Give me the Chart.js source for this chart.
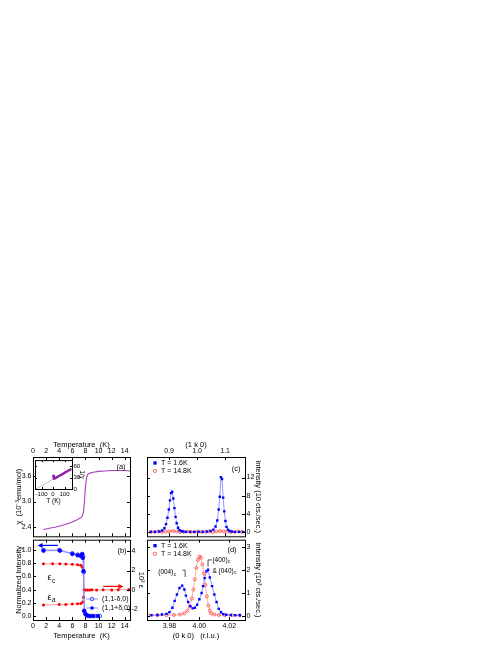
<!DOCTYPE html>
<html>
<head>
<meta charset="utf-8">
<script src="https://cdn.jsdelivr.net/npm/chart.js@4.4.0/dist/chart.umd.min.js"></script>
<style>
  html, body { margin: 0; padding: 0; background: #fff; }
  #fig { position: relative; width: 498px; height: 645px; overflow: hidden; }
  #fig canvas { position: absolute; }
</style>
</head>
<body>
<div id="fig">
  <canvas id="pa" width="128" height="102" style="left:14px;top:440px"></canvas>
  <canvas id="pb" width="132" height="106" style="left:14px;top:534px"></canvas>
  <canvas id="pc" width="123" height="102" style="left:140px;top:440px"></canvas>
  <canvas id="pd" width="123" height="106" style="left:140px;top:534px"></canvas>
  <canvas id="pi" width="55" height="50" style="left:31px;top:455px"></canvas>
</div>
<script>
// (a) susceptibility vs temperature
const chiT   = [1.6, 2.5, 3.5, 4.5, 5.5, 6.5, 7.2, 7.5, 7.7, 7.85, 8.0, 8.2, 8.4, 8.7, 9.2, 10, 11, 12, 13, 14, 14.8];
const chiVal = [2.34, 2.37, 2.40, 2.44, 2.49, 2.55, 2.61, 2.65, 2.75, 3.0, 3.35, 3.58, 3.65, 3.67, 3.69, 3.71, 3.72, 3.73, 3.73, 3.73, 3.72];

// (a) inset, 1/chi vs T and Curie-Weiss line
const invT   = [2, 4, 6, 7.5, 8, 10, 20, 40, 60, 80, 100, 120, 140, 160];
const invChi = [38, 36.5, 35, 33.5, 28, 27.5, 29, 32.5, 36, 39.5, 43, 46.5, 50, 53.5];
const fitT   = [-150, 165];
const fitVal = [0, 55];

// (b) normalized intensity of the two satellites
const minusT = [1.6, 4.0, 6.0, 6.8, 7.3, 7.55, 7.65, 7.75, 7.85, 8.1, 8.4, 8.9, 9.5, 10.2];
const minusI = [1.0, 1.0, 0.95, 0.93, 0.92, 0.93, 0.90, 0.66, 0.07, 0.02, 0.0, 0.0, 0.0, 0.0];
const plusT  = [1.6, 4.1, 6.0, 6.8, 7.3, 7.5, 7.6, 7.7, 7.8, 8.0, 8.3, 8.7, 9.2, 9.9];
const plusI  = [0.99, 0.99, 0.94, 0.92, 0.91, 0.94, 0.88, 0.68, 0.08, 0.03, 0.01, 0.0, 0.0, 0.0];

// (b) strain, right axis (10^3 eps)
const epsCT = [1.6, 3.0, 4.1, 5.0, 6.0, 6.8, 7.3, 7.55, 7.7, 7.8, 8.0, 8.3, 8.65, 9.0, 9.7, 10.7, 12.0, 13.0, 14.6];
const epsC  = [2.7, 2.72, 2.7, 2.68, 2.65, 2.6, 2.55, 2.35, 2.0, 0.0, -0.05, -0.05, -0.05, 0.0, -0.05, 0.0, -0.05, 0.0, 0.0];
const epsAT = [1.6, 4.0, 5.0, 6.0, 6.8, 7.3, 7.6, 7.7, 7.8];
const epsA  = [-1.6, -1.55, -1.55, -1.5, -1.48, -1.45, -1.3, -0.8, 0.0];

// (c) (1 k 0) scans
const cK_lo = [0.835, 0.85, 0.865, 0.875, 0.883, 0.889, 0.894, 0.899, 0.903, 0.907, 0.911, 0.915, 0.919, 0.923, 0.927, 0.932, 0.937, 0.943, 0.95, 0.96, 0.975, 0.99, 1.005, 1.02, 1.035, 1.048, 1.058, 1.066, 1.072, 1.077, 1.081, 1.085, 1.089, 1.093, 1.097, 1.101, 1.105, 1.110, 1.116, 1.124, 1.135, 1.15, 1.165];
const cI_lo = [0.1, 0.1, 0.2, 0.4, 0.9, 1.8, 3.2, 5.0, 7.0, 8.6, 8.9, 7.4, 5.3, 3.4, 2.0, 1.0, 0.5, 0.3, 0.2, 0.1, 0.1, 0.1, 0.1, 0.1, 0.2, 0.3, 0.6, 1.3, 2.6, 5.0, 7.8, 12.1, 11.7, 7.6, 4.6, 2.5, 1.2, 0.6, 0.3, 0.2, 0.1, 0.1, 0.1];
const cK_hi = [0.835, 0.848, 0.861, 0.874, 0.887, 0.9, 0.913, 0.926, 0.939, 0.952, 0.965, 0.978, 0.991, 1.004, 1.017, 1.03, 1.043, 1.056, 1.069, 1.082, 1.095, 1.108, 1.121, 1.134, 1.147, 1.16];
const cI_hi = [0.1, 0.1, 0.2, 0.1, 0.2, 0.2, 0.3, 0.2, 0.1, 0.1, 0.2, 0.1, 0.1, 0.2, 0.1, 0.1, 0.2, 0.1, 0.2, 0.3, 0.2, 0.2, 0.1, 0.1, 0.2, 0.1];

// (d) (0 k 0) scans
const dK_lo = [3.968, 3.972, 3.975, 3.978, 3.980, 3.982, 3.9835, 3.985, 3.9867, 3.9885, 3.990, 3.991, 3.9925, 3.994, 3.9955, 3.997, 3.9985, 4.000, 4.0015, 4.0025, 4.0035, 4.0048, 4.0058, 4.007, 4.0085, 4.010, 4.0115, 4.013, 4.0145, 4.016, 4.018, 4.021, 4.024, 4.027];
const dI_lo = [0.02, 0.03, 0.05, 0.08, 0.15, 0.35, 0.65, 0.93, 1.22, 1.32, 1.15, 0.88, 0.6, 0.42, 0.32, 0.35, 0.48, 0.72, 1.0, 1.3, 1.65, 1.95, 2.02, 1.68, 1.3, 0.93, 0.6, 0.3, 0.15, 0.07, 0.04, 0.03, 0.02, 0.02];
const dK_hi = [3.966, 3.972, 3.978, 3.983, 3.987, 3.990, 3.992, 3.9935, 3.995, 3.996, 3.997, 3.998, 3.999, 4.000, 4.001, 4.002, 4.003, 4.004, 4.005, 4.006, 4.007, 4.008, 4.010, 4.013, 4.017, 4.022, 4.027];
const dI_hi = [0.02, 0.02, 0.02, 0.03, 0.05, 0.1, 0.22, 0.4, 0.75, 1.15, 1.6, 2.1, 2.45, 2.6, 2.55, 2.25, 1.85, 1.35, 0.85, 0.45, 0.22, 0.1, 0.05, 0.03, 0.02, 0.02, 0.02];

// tick labels
const tempTicks   = [0, 2, 4, 6, 8, 10, 12, 14];
const chiTicks    = [2.4, 3.0, 3.6];
const invTTicks   = [-100, 0, 100];
const invChiTicks = [0, 30, 60];
const normTicks   = [0, 0.2, 0.4, 0.6, 0.8, 1.0];
const epsTicks    = [-2, 0, 2, 4];
const k1Ticks     = [0.9, 1.0, 1.1];
const cTicks      = [0, 4, 8, 12];
const k0Ticks     = [3.98, 4.00, 4.02];
const dTicks      = [0, 1, 2, 3];

const FONT = '"Liberation Sans", Arial, sans-serif';
Chart.defaults.font.family = FONT;
Chart.defaults.font.size = 7;
Chart.defaults.color = '#000';

const fmt0 = v => String(v);
const fmt1 = v => v.toFixed(1);
const fmt2 = v => v.toFixed(2);

function pts(xs, ys) { return xs.map((x, i) => ({ x, y: ys[i] })); }

function series(xs, ys, o) {
  return Object.assign({
    data: pts(xs, ys), showLine: true, borderWidth: 0.8, tension: 0,
    pointRadius: 0, pointHoverRadius: 0, pointBorderWidth: 0.8
  }, o);
}

// fixed-size axis so every panel lines up
function axis(pos, min, max, ticks, size, title, fmt, fs) {
  fs = fs || 7;
  return {
    type: 'linear', position: pos, min, max,
    grid: { display: false, drawTicks: false },
    border: { display: false },
    ticks: { padding: 1.5, maxRotation: 0, minRotation: 0, autoSkip: false, callback: fmt, font: { size: fs } },
    title: { display: true, text: title, padding: 0, font: { size: fs + 0.5 } },
    afterBuildTicks: s => { s.ticks = ticks.map(v => ({ value: v })); },
    afterFit: s => { if (s.isHorizontal()) s.height = size; else s.width = size; }
  };
}

function base(pad, scales) {
  return {
    responsive: false, animation: false, events: [],
    layout: { padding: Object.assign({ left: 0, top: 0, right: 0, bottom: 0 }, pad) },
    plugins: { legend: { display: false }, tooltip: { enabled: false } },
    scales
  };
}

// box with inward ticks, Origin style
const frame = {
  id: 'frame',
  afterDraw(chart) {
    const { ctx, chartArea: a } = chart;
    const scales = Object.values(chart.scales);
    const ys = scales.filter(s => s.axis === 'y');
    const len = chart.canvas.id === 'pi' ? 2 : 3;
    ctx.save();
    ctx.strokeStyle = '#000';
    ctx.lineWidth = 1;
    ctx.strokeRect(a.left + 0.5, a.top + 0.5, a.width, a.height);
    scales.forEach(s => {
      s.ticks.forEach(t => {
        const p = Math.round(s.getPixelForValue(t.value)) + 0.5;
        ctx.beginPath();
        if (s.axis === 'x') {
          ctx.moveTo(p, a.top); ctx.lineTo(p, a.top + len);
          ctx.moveTo(p, a.bottom); ctx.lineTo(p, a.bottom - len);
        } else {
          if (ys.length === 1 || s.position === 'left') { ctx.moveTo(a.left, p); ctx.lineTo(a.left + len, p); }
          if (ys.length === 1 || s.position === 'right') { ctx.moveTo(a.right, p); ctx.lineTo(a.right - len, p); }
        }
        ctx.stroke();
      });
    });
    ctx.restore();
  }
};

function txt(ctx, s, x, y, size, align, color) {
  ctx.font = size + 'px ' + FONT;
  ctx.fillStyle = color || '#000';
  ctx.textAlign = align || 'center';
  ctx.textBaseline = 'middle';
  ctx.fillText(s, x, y);
  return ctx.measureText(s).width;
}

function sub(ctx, s, low, x, y, size, color) {
  const w = txt(ctx, s, x, y, size, 'left', color);
  txt(ctx, low, x + w + 0.5, y + size * 0.35, size * 0.7, 'left', color);
}

function arrow(ctx, x1, y, x2, color) {
  const d = Math.sign(x2 - x1);
  ctx.save();
  ctx.strokeStyle = color; ctx.fillStyle = color; ctx.lineWidth = 1.2;
  ctx.beginPath(); ctx.moveTo(x1, y); ctx.lineTo(x2 - d * 3, y); ctx.stroke();
  ctx.beginPath(); ctx.moveTo(x2, y); ctx.lineTo(x2 - d * 5, y - 2.5); ctx.lineTo(x2 - d * 5, y + 2.5); ctx.closePath(); ctx.fill();
  ctx.restore();
}

function mark(ctx, style, x, y, r, color, open) {
  ctx.beginPath();
  if (style === 'rect') ctx.rect(x - r * 0.75, y - r * 0.75, r * 1.5, r * 1.5);
  else ctx.arc(x, y, r, 0, Math.PI * 2);
  if (open) { ctx.strokeStyle = color; ctx.lineWidth = 0.8; ctx.stroke(); }
  else { ctx.fillStyle = color; ctx.fill(); }
}

function bracket(ctx, pts2) {
  ctx.save();
  ctx.strokeStyle = '#000'; ctx.lineWidth = 0.7;
  ctx.beginPath();
  pts2.forEach((p, i) => i ? ctx.lineTo(p[0], p[1]) : ctx.moveTo(p[0], p[1]));
  ctx.stroke();
  ctx.restore();
}

const BLUE = '#0000ff', BLUE_L = '#7f7fff', RED = '#ff0000', RED_O = '#ff4040', RED_L = '#ff9a9a';

// (a)
new Chart(document.getElementById('pa'), {
  type: 'line',
  data: { datasets: [series(chiT, chiVal, { borderColor: '#a93cc0', borderWidth: 1.1 })] },
  options: base({ right: 12, bottom: 4 }, {
    x: axis('top', 0, 14.8, tempTicks, 17, 'Temperature  (K)', fmt0),
    y: axis('left', 2.18, 4.05, chiTicks, 19, 'χ  (10⁻³emu/mol)', fmt1)
  }),
  plugins: [frame, { id: 'na', afterDraw(c) { txt(c.ctx, '(a)', c.chartArea.right - 9, c.chartArea.top + 10, 7.5); } }]
});

// (b)
new Chart(document.getElementById('pb'), {
  type: 'line',
  data: {
    datasets: [
      series(plusT, plusI, { label: '(1,1+δ,0)', borderColor: BLUE_L, pointRadius: 1.8, pointBackgroundColor: BLUE, pointBorderColor: BLUE }),
      series(minusT, minusI, { label: '(1,1-δ,0)', borderColor: BLUE_L, pointRadius: 1.8, pointBackgroundColor: 'rgba(0,0,0,0)', pointBorderColor: '#2a2aff' }),
      series(epsCT, epsC, { yAxisID: 'y2', borderColor: '#ff7f7f', pointRadius: 1.5, pointBackgroundColor: RED, pointBorderWidth: 0 }),
      series(epsAT, epsA, { yAxisID: 'y2', borderColor: '#ff7f7f', pointRadius: 1.5, pointBackgroundColor: RED, pointBorderWidth: 0 })
    ]
  },
  options: base({ top: 4 }, {
    x: axis('bottom', 0, 14.8, tempTicks, 20, 'Temperature  (K)', fmt0),
    y: axis('left', -0.06, 1.156, normTicks, 19, 'Normalized Intensity', fmt1),
    y2: axis('right', -3.18, 5.23, epsTicks, 16, '10³ ε', fmt0)
  }),
  plugins: [frame, {
    id: 'nb',
    afterDraw(c) {
      const { ctx, chartArea: a, scales: { x, y, y2 } } = c;
      txt(ctx, '(b)', a.right - 8, a.top + 11, 7.5);
      arrow(ctx, x.getPixelForValue(3.8), y.getPixelForValue(1.07), x.getPixelForValue(0.7), BLUE);
      arrow(ctx, x.getPixelForValue(10.7), y2.getPixelForValue(0.34), x.getPixelForValue(13.8), RED);
      sub(ctx, 'ε', 'c', x.getPixelForValue(2.2), y2.getPixelForValue(1.25), 9);
      sub(ctx, 'ε', 'a', x.getPixelForValue(2.2), y2.getPixelForValue(-0.8), 9);
      const ds = c.data.datasets;
      const lx = a.right - 44;
      [[ds[1], true, a.bottom - 21], [ds[0], false, a.bottom - 12]].forEach(([d, open, ly]) => {
        ctx.strokeStyle = BLUE_L; ctx.lineWidth = 0.8;
        ctx.beginPath(); ctx.moveTo(lx, ly); ctx.lineTo(lx + 12, ly); ctx.stroke();
        mark(ctx, 'circle', lx + 6, ly, 1.8, open ? '#2a2aff' : BLUE, open);
        txt(ctx, d.label, lx + 16, ly, 7, 'left');
      });
    }
  }]
});

function peakLegend(ctx, a, dy) {
  mark(ctx, 'rect', a.left + 8, a.top + dy, 2.2, BLUE, false);
  txt(ctx, 'T = 1.6K', a.left + 14, a.top + dy, 7, 'left');
  mark(ctx, 'circle', a.left + 8, a.top + dy + 8, 1.6, RED_O, true);
  txt(ctx, 'T = 14.8K', a.left + 14, a.top + dy + 8, 7, 'left');
}

// (c)
new Chart(document.getElementById('pc'), {
  type: 'line',
  data: {
    datasets: [
      series(cK_lo, cI_lo, { borderColor: BLUE_L, pointStyle: 'rect', pointRadius: 1.7, pointBackgroundColor: BLUE, pointBorderWidth: 0 }),
      series(cK_hi, cI_hi, { borderColor: RED_L, pointRadius: 1.5, pointBackgroundColor: 'rgba(0,0,0,0)', pointBorderColor: RED_O })
    ]
  },
  options: base({ left: 7, bottom: 4 }, {
    x: axis('top', 0.821, 1.171, k1Ticks, 17, '(1 k 0)', fmt1),
    y: axis('right', -0.86, 16.5, cTicks, 18, 'Intensity (10 cts./sec.)', fmt0)
  }),
  plugins: [frame, {
    id: 'nc',
    afterDraw(c) {
      const { ctx, chartArea: a } = c;
      txt(ctx, '(c)', a.right - 9, a.top + 12, 7.5);
      peakLegend(ctx, a, 6);
    }
  }]
});

// (d)
new Chart(document.getElementById('pd'), {
  type: 'line',
  data: {
    datasets: [
      series(dK_lo, dI_lo, { borderColor: BLUE_L, pointStyle: 'rect', pointRadius: 1.7, pointBackgroundColor: BLUE, pointBorderWidth: 0 }),
      series(dK_hi, dI_hi, { borderColor: RED_L, pointRadius: 1.5, pointBackgroundColor: 'rgba(0,0,0,0)', pointBorderColor: RED_O })
    ]
  },
  options: base({ left: 7, top: 4 }, {
    x: axis('bottom', 3.965, 4.0305, k0Ticks, 20, '(0 k 0)   (r.l.u.)', fmt2),
    y: axis('right', -0.19, 3.34, dTicks, 18, 'Intensity (10³ cts./sec.)', fmt0)
  }),
  plugins: [frame, {
    id: 'nd',
    afterDraw(c) {
      const { ctx, chartArea: a, scales: { x, y } } = c;
      txt(ctx, '(d)', a.right - 13, a.top + 10, 7.5);
      peakLegend(ctx, a, 6);
      sub(ctx, '(004)', 'c', x.getPixelForValue(3.9725), y.getPixelForValue(1.9), 6.5);
      bracket(ctx, [[x.getPixelForValue(3.9887), y.getPixelForValue(2.0)], [x.getPixelForValue(3.9905), y.getPixelForValue(2.0)], [x.getPixelForValue(3.9905), y.getPixelForValue(1.7)]]);
      sub(ctx, '(400)', 'c', x.getPixelForValue(4.0087), y.getPixelForValue(2.45), 6.5);
      sub(ctx, '& (040)', 'c', x.getPixelForValue(4.0087), y.getPixelForValue(1.97), 6.5);
      bracket(ctx, [[x.getPixelForValue(4.0083), y.getPixelForValue(2.45)], [x.getPixelForValue(4.0058), y.getPixelForValue(2.45)], [x.getPixelForValue(4.0058), y.getPixelForValue(2.15)]]);
    }
  }]
});

// (a) inset
new Chart(document.getElementById('pi'), {
  type: 'line',
  data: {
    datasets: [
      series(invT, invChi, { borderColor: '#8e1fa3', borderWidth: 2.4 }),
      series(fitT, fitVal, { borderColor: '#a8a8a8', borderWidth: 0.7 })
    ]
  },
  options: base({ left: 4, top: 4 }, {
    x: axis('bottom', -157, 165, invTTicks, 16, 'T (K)', fmt0, 6),
    y: axis('right', 0, 77, invChiTicks, 14, '1/χ', fmt0, 6)
  }),
  plugins: [frame]
});
</script>
</body>
</html>
